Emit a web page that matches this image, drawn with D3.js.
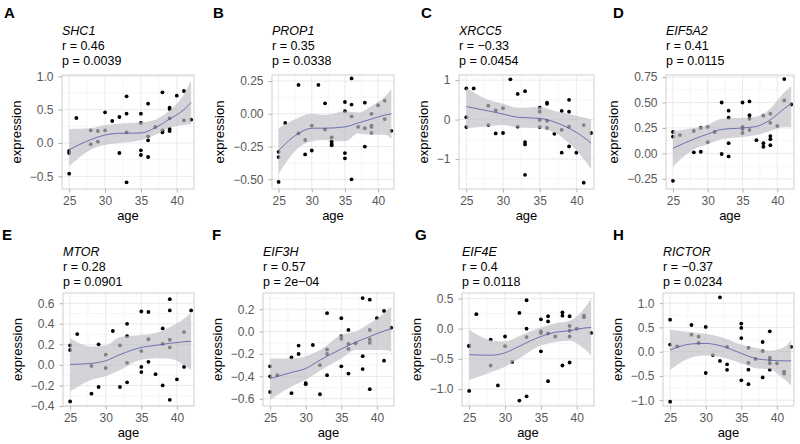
<!DOCTYPE html>
<html>
<head>
<meta charset="utf-8">
<script src="https://cdn.jsdelivr.net/npm/d3@7"></script>
<style>
  body { margin: 0; background: #fff; }
  svg { display: block; }
  text { font-family: "Liberation Sans", Arial, Helvetica, sans-serif; }
</style>
</head>
<body>
<svg id="chart" width="800" height="444"></svg>
<script>
// panel labels and stats
const letters = ['A', 'B', 'C', 'D', 'E', 'F', 'G', 'H']
const genes = ['SHC1', 'PROP1', 'XRCC5', 'EIF5A2', 'MTOR', 'EIF3H', 'EIF4E', 'RICTOR']
const rLabels = ['0.46', '0.35', '\u22120.33', '0.41', '0.28', '0.57', '0.4', '\u22120.37']
const pLabels = ['0.0039', '0.0338', '0.0454', '0.0115', '0.0901', '2e\u221204', '0.0118', '0.0234']

// [age, expression]
const shc1Points = [[25,-0.46],[25,-0.15],[25,-0.12],[26,0.375],[28,0.19],[28,-0.02],[29,0.18],[29,0.02],[30,0.46],[30,0.19],[31,0.33],[32,0.39],[32,-0.15],[33,0.70],[33,0.44],[33,0.16],[33,-0.59],[35,0.44],[35,0.30],[35,-0.11],[35,-0.18],[36,0.59],[36,0.10],[36,0.04],[36,-0.21],[37,0.24],[38,0.76],[38,0.19],[38,0.16],[39,0.53],[39,0.51],[39,0.37],[39,0.21],[39,0.18],[40,0.71],[41,0.78],[41,0.34],[42,0.35]]
const prop1Points = [[25,-0.52],[25,-0.29],[25,-0.33],[26,-0.07],[28,0.22],[28,-0.15],[29,-0.20],[29,-0.31],[30,-0.09],[30,-0.28],[31,0.22],[32,0.08],[32,-0.12],[33,-0.18],[33,-0.21],[33,-0.23],[33,-0.24],[35,0.09],[35,0.02],[35,-0.30],[35,-0.34],[36,0.27],[36,0.07],[36,-0.02],[36,-0.50],[37,-0.10],[38,0.085],[38,-0.11],[38,-0.25],[39,0.0],[39,-0.09],[39,-0.10],[39,-0.145],[40,0.065],[41,0.10],[41,-0.04],[42,-0.13]]
const xrcc5Points = [[25,0.79],[25,0.06],[25,-0.19],[26,0.79],[28,0.35],[28,-0.14],[29,0.23],[29,-0.35],[30,0.29],[30,-0.34],[31,1.02],[32,0.65],[32,-0.18],[33,0.72],[33,-0.57],[33,-0.63],[33,-1.40],[35,0.30],[35,0.20],[35,-0.01],[35,-0.19],[36,0.43],[36,0.40],[36,-0.03],[36,-0.21],[37,-0.36],[38,0.22],[38,-0.26],[38,-0.84],[39,0.50],[39,0.20],[39,-0.18],[39,-0.68],[40,-0.84],[41,-0.14],[41,-1.60],[42,-0.34]]
const eif5a2Points = [[25,0.21],[25,0.165],[25,-0.27],[26,0.18],[28,0.22],[28,0.01],[29,0.25],[29,0.016],[30,0.26],[30,0.11],[31,0.21],[32,0.50],[32,-0.006],[33,0.42],[33,0.35],[33,0.10],[33,-0.03],[35,0.50],[35,0.26],[35,0.24],[35,0.20],[36,0.51],[36,0.375],[36,0.34],[36,0.23],[37,0.13],[38,0.37],[38,0.10],[38,0.065],[39,0.39],[39,0.30],[39,0.17],[39,0.14],[39,0.08],[40,0.27],[41,0.73],[41,0.52],[42,0.48]]
const mtorPoints = [[25,0.19],[25,0.145],[25,-0.355],[26,0.30],[28,-0.01],[28,-0.28],[29,0.20],[29,-0.215],[30,0.10],[30,-0.03],[31,0.33],[32,0.19],[32,-0.215],[33,0.40],[33,0.28],[33,0.02],[33,-0.17],[35,0.52],[35,0.135],[35,-0.02],[35,-0.07],[36,0.515],[36,0.25],[36,0.03],[37,-0.09],[38,0.355],[38,0.205],[38,-0.20],[39,0.64],[39,0.53],[39,0.245],[39,0.17],[39,-0.34],[40,-0.14],[41,0.32],[41,-0.02],[42,0.53]]
const eif3hPoints = [[25,-0.31],[25,-0.40],[25,-0.54],[26,-0.39],[28,-0.23],[28,-0.55],[29,-0.125],[29,-0.20],[30,-0.46],[30,-0.47],[31,-0.12],[32,-0.30],[32,-0.56],[33,0.165],[33,-0.16],[33,-0.20],[33,-0.39],[35,0.12],[35,-0.04],[35,-0.065],[35,-0.31],[36,0.015],[36,-0.11],[36,-0.155],[36,-0.375],[37,-0.105],[38,0.30],[38,-0.22],[38,-0.335],[39,0.285],[39,0.015],[39,-0.07],[39,-0.10],[39,-0.515],[40,0.12],[41,0.185],[41,-0.26],[42,0.035]]
const eif4ePoints = [[25,-0.28],[25,-0.29],[25,-1.03],[26,0.24],[28,-0.18],[28,-0.61],[29,-0.94],[30,-0.13],[30,-0.29],[31,-0.55],[32,0.26],[32,-1.19],[33,0.47],[33,0.0],[33,-0.14],[33,-1.12],[35,0.155],[35,-0.045],[35,-0.07],[35,-0.375],[36,0.205],[36,0.12],[36,-0.08],[36,-0.87],[37,-0.13],[38,0.27],[38,0.215],[38,-0.61],[39,0.205],[39,0.045],[39,-0.035],[39,-0.13],[39,-0.56],[40,0.0],[41,0.215],[41,0.19],[42,-0.07]]
const rictorPoints = [[25,0.66],[25,0.146],[25,-1.03],[26,0.11],[28,0.55],[28,0.35],[29,0.31],[29,0.18],[30,0.51],[30,-0.44],[31,-0.07],[32,1.12],[32,-0.19],[33,0.10],[33,-0.26],[33,-0.375],[35,0.58],[35,0.49],[35,0.28],[35,-0.59],[36,0.08],[36,-0.23],[36,-0.37],[36,-0.67],[37,-0.15],[38,0.20],[38,0.01],[38,-0.53],[39,0.42],[39,-0.125],[39,-0.17],[39,-0.24],[39,-0.37],[40,-0.24],[41,-0.41],[41,-0.45],[42,0.10]]

// loess fit with confidence band, read at these ages
const fitAges = [25, 28, 30, 32, 35, 37, 39, 41, 42]
const shc1Fit = [-0.10, 0.05, 0.12, 0.145, 0.15, 0.23, 0.36, 0.50, 0.61]
const shc1Lo = [-0.35, -0.10, -0.03, 0.0, 0.04, 0.12, 0.23, 0.27, 0.28]
const shc1Hi = [0.21, 0.22, 0.27, 0.29, 0.31, 0.35, 0.49, 0.73, 0.94]
const prop1Fit = [-0.28, -0.15, -0.11, -0.11, -0.10, -0.07, -0.04, -0.01, 0.0]
const prop1Lo = [-0.46, -0.26, -0.21, -0.20, -0.21, -0.15, -0.16, -0.16, -0.19]
const prop1Hi = [-0.11, -0.03, 0.0, -0.01, 0.02, 0.01, 0.06, 0.13, 0.19]
const xrcc5Fit = [0.33, 0.22, 0.14, 0.06, 0.03, -0.06, -0.22, -0.45, -0.60]
const xrcc5Lo = [-0.22, -0.17, -0.14, -0.20, -0.22, -0.33, -0.60, -1.0, -1.25]
const xrcc5Hi = [0.80, 0.50, 0.40, 0.30, 0.32, 0.22, 0.14, 0.05, 0.0]
const eif5a2Fit = [0.05, 0.14, 0.19, 0.235, 0.25, 0.265, 0.33, 0.44, 0.49]
const eif5a2Lo = [-0.13, 0.04, 0.09, 0.14, 0.16, 0.18, 0.22, 0.26, 0.26]
const eif5a2Hi = [0.22, 0.25, 0.28, 0.34, 0.35, 0.36, 0.44, 0.60, 0.66]
const mtorFit = [0.005, 0.015, 0.04, 0.10, 0.17, 0.19, 0.21, 0.225, 0.23]
const mtorLo = [-0.26, -0.145, -0.11, -0.05, 0.05, 0.065, 0.06, 0.0, -0.05]
const mtorHi = [0.26, 0.18, 0.19, 0.27, 0.29, 0.31, 0.37, 0.45, 0.51]
const eif3hFit = [-0.42, -0.365, -0.33, -0.255, -0.155, -0.095, -0.045, 0.006, 0.025]
const eif3hLo = [-0.61, -0.49, -0.43, -0.35, -0.24, -0.165, -0.165, -0.165, -0.18]
const eif3hHi = [-0.24, -0.24, -0.22, -0.165, -0.03, 0.0, 0.075, 0.165, 0.225]
const eif4eFit = [-0.43, -0.44, -0.40, -0.29, -0.13, -0.06, -0.035, 0.01, 0.02]
const eif4eLo = [-0.85, -0.72, -0.63, -0.49, -0.28, -0.22, -0.2, -0.33, -0.44]
const eif4eHi = [-0.02, -0.19, -0.21, -0.12, 0.02, 0.09, 0.13, 0.33, 0.5]
const rictorFit = [0.035, 0.16, 0.17, 0.125, -0.035, -0.14, -0.175, -0.19, -0.19]
const rictorLo = [-0.38, -0.12, -0.08, -0.11, -0.24, -0.34, -0.36, -0.57, -0.69]
const rictorHi = [0.45, 0.40, 0.37, 0.31, 0.15, 0.08, 0.02, 0.09, 0.24]

// axes
const xTicks = [25, 30, 35, 40]
const xDomain = [24.0, 42.4]
const yDomains = [[-0.69, 1.02], [-0.574, 0.296], [-1.76, 1.13], [-0.35, 0.77],
	[-0.40, 0.70], [-0.665, 0.345], [-1.28, 0.59], [-1.12, 1.21]]
const yTicks = [[-0.5, 0, 0.5, 1], [-0.5, -0.25, 0, 0.25], [-1, 0, 1], [-0.25, 0, 0.25, 0.5, 0.75],
	[-0.4, -0.2, 0, 0.2, 0.4, 0.6], [-0.6, -0.4, -0.2, 0, 0.2], [-1, -0.5, 0, 0.5], [-1, -0.5, 0, 0.5, 1]]
const yFormats = ['.1f', '.2f', 'd', '.2f', '.1f', '.1f', '.1f', '.1f']

const panels = [
	{ points: shc1Points, fit: shc1Fit, lo: shc1Lo, hi: shc1Hi },
	{ points: prop1Points, fit: prop1Fit, lo: prop1Lo, hi: prop1Hi },
	{ points: xrcc5Points, fit: xrcc5Fit, lo: xrcc5Lo, hi: xrcc5Hi },
	{ points: eif5a2Points, fit: eif5a2Fit, lo: eif5a2Lo, hi: eif5a2Hi },
	{ points: mtorPoints, fit: mtorFit, lo: mtorLo, hi: mtorHi },
	{ points: eif3hPoints, fit: eif3hFit, lo: eif3hLo, hi: eif3hHi },
	{ points: eif4ePoints, fit: eif4eFit, lo: eif4eLo, hi: eif4eHi },
	{ points: rictorPoints, fit: rictorFit, lo: rictorLo, hi: rictorHi }
]

// plot-area left edge and panel letter x, per panel
const plotLeft = [62, 272, 459, 666, 63, 263, 462, 663]
const letterX = [4, 213, 421, 613, 2, 212, 415, 613]

const svg = d3.select('#chart')

panels.forEach((panel, i) => {
	const col = i % 4
	const row = Math.floor(i / 4)
	const left = plotLeft[i]
	const right = col * 200 + 194
	const top = row ? 293 : 75
	const bottom = row ? 406 : 189
	const textTop = row ? 255.5 : 34.5

	const x = d3.scaleLinear().domain(xDomain).range([left, right])
	const y = d3.scaleLinear().domain(yDomains[i]).range([bottom, top])

	const g = svg.append('g').attr('class', 'panel')

	g.append('clipPath').attr('id', 'clip' + i)
		.append('rect')
		.attr('x', left).attr('y', top)
		.attr('width', right - left).attr('height', bottom - top)

	g.append('rect')
		.attr('x', left).attr('y', top)
		.attr('width', right - left).attr('height', bottom - top)
		.attr('fill', '#fff')

	// grid
	const yt = yTicks[i]
	const step = yt[1] - yt[0]
	const yMinor = d3.range(yt[0] - step / 2, yt[yt.length - 1] + step, step)
		.filter((v) => v > yDomains[i][0] && v < yDomains[i][1])
	const xMinor = [27.5, 32.5, 37.5]

	g.selectAll('.vminor').data(xMinor).enter().append('line')
		.attr('x1', (d) => x(d)).attr('x2', (d) => x(d))
		.attr('y1', top).attr('y2', bottom)
		.attr('stroke', '#f0f0f0').attr('stroke-width', 0.6)
	g.selectAll('.hminor').data(yMinor).enter().append('line')
		.attr('y1', (d) => y(d)).attr('y2', (d) => y(d))
		.attr('x1', left).attr('x2', right)
		.attr('stroke', '#f0f0f0').attr('stroke-width', 0.6)
	g.selectAll('.vmajor').data(xTicks).enter().append('line')
		.attr('x1', (d) => x(d)).attr('x2', (d) => x(d))
		.attr('y1', top).attr('y2', bottom)
		.attr('stroke', '#e4e4e4').attr('stroke-width', 0.8)
	g.selectAll('.hmajor').data(yt).enter().append('line')
		.attr('y1', (d) => y(d)).attr('y2', (d) => y(d))
		.attr('x1', left).attr('x2', right)
		.attr('stroke', '#e4e4e4').attr('stroke-width', 0.8)

	// points under the band
	g.selectAll('circle').data(panel.points).enter().append('circle')
		.attr('cx', (d) => x(d[0]))
		.attr('cy', (d) => y(d[1]))
		.attr('r', 1.9)
		.attr('fill', '#000')

	const band = fitAges.map((a, k) => ({ age: a, fit: panel.fit[k], lo: panel.lo[k], hi: panel.hi[k] }))
	const clipped = g.append('g').attr('clip-path', 'url(#clip' + i + ')')

	clipped.append('path')
		.datum(band)
		.attr('d', d3.area()
			.x((d) => x(d.age))
			.y0((d) => y(d.lo))
			.y1((d) => y(d.hi))
			.curve(d3.curveMonotoneX))
		.attr('fill', '#c0c0c6')
		.attr('fill-opacity', 0.68)

	clipped.append('path')
		.datum(band)
		.attr('d', d3.line()
			.x((d) => x(d.age))
			.y((d) => y(d.fit))
			.curve(d3.curveMonotoneX))
		.attr('fill', 'none')
		.attr('stroke', '#5058a2')
		.attr('stroke-width', 0.8)

	g.append('rect')
		.attr('x', left).attr('y', top)
		.attr('width', right - left).attr('height', bottom - top)
		.attr('fill', 'none')
		.attr('stroke', '#c4c4c4')
		.attr('stroke-width', 0.8)

	// axes
	const yAxis = g.append('g')
		.attr('transform', 'translate(' + left + ',0)')
		.call(d3.axisLeft(y).tickValues(yt).tickFormat(d3.format(yFormats[i])).tickSize(3.5).tickPadding(5))
	const xAxis = g.append('g')
		.attr('transform', 'translate(0,' + bottom + ')')
		.call(d3.axisBottom(x).tickValues(xTicks).tickSize(3.5).tickPadding(3.5))

	for (const ax of [yAxis, xAxis]) {
		ax.select('.domain').remove()
		ax.selectAll('line').attr('stroke', '#b3b3b3')
		ax.selectAll('text')
			.attr('fill', '#595959')
			.style('font-size', '12px')
			.style('font-family', '"Liberation Sans", Arial, sans-serif')
	}

	let maxW = 0
	yAxis.selectAll('text').each(function () {
		maxW = Math.max(maxW, this.getComputedTextLength())
	})

	g.append('text')
		.attr('transform', 'translate(' + (left - 8.5 - maxW - 9) + ',' + ((top + bottom) / 2) + ') rotate(-90)')
		.attr('text-anchor', 'middle')
		.style('font-size', '13px')
		.text('expression')

	g.append('text')
		.attr('x', (left + right) / 2)
		.attr('y', bottom + 30.5)
		.attr('text-anchor', 'middle')
		.style('font-size', '13px')
		.text('age')

	// header
	g.append('text')
		.attr('x', letterX[i])
		.attr('y', row ? 239.5 : 18)
		.style('font-size', '15px')
		.style('font-weight', 'bold')
		.text(letters[i])

	g.append('text')
		.attr('x', left).attr('y', textTop)
		.style('font-size', '12.5px')
		.style('font-style', 'italic')
		.text(genes[i])
	g.append('text')
		.attr('x', left).attr('y', textTop + 15)
		.style('font-size', '12.5px')
		.text('r = ' + rLabels[i])
	g.append('text')
		.attr('x', left).attr('y', textTop + 30)
		.style('font-size', '12.5px')
		.text('p = ' + pLabels[i])
})
</script>
</body>
</html>
